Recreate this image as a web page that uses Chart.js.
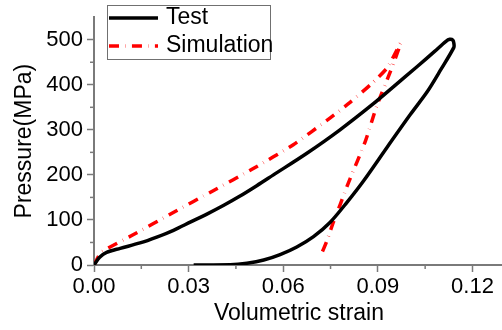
<!DOCTYPE html>
<html><head><meta charset="utf-8">
<script src="https://cdn.jsdelivr.net/npm/chart.js@4.4.1/dist/chart.umd.min.js"></script>
<style>html,body{margin:0;padding:0;overflow:hidden;background:#fff}#wrap{width:504px;height:330px;position:relative}</style>
</head><body><div id="wrap"><canvas id="c"></canvas></div>
<script>
// ---- data ----
const seriesLabels = ['Test', 'Simulation'];
const testStrain = [0, 0.0018, 0.004, 0.0083, 0.0146, 0.0199, 0.0252, 0.0305, 0.0358, 0.041, 0.0463, 0.0516, 0.0569, 0.0675, 0.078, 0.0886, 0.095, 0.1024, 0.108, 0.1115, 0.1128, 0.1138, 0.1141, 0.1141, 0.11, 0.1057, 0.1004, 0.093, 0.0855, 0.0802, 0.0749, 0.0696, 0.0643, 0.059, 0.0538, 0.0485, 0.0432, 0.0316];
const testPressure = [0, 17, 28, 37, 49, 62, 77, 95, 113, 132, 153, 176, 200, 248, 300, 358, 396, 440, 474, 496, 501, 499, 492, 483, 434, 385, 335, 262, 187, 139, 95, 63, 40, 23, 11, 4, 0.5, 0];
const simStrain = [0, 0.0023, 0.0124, 0.025, 0.0378, 0.0505, 0.0632, 0.0748, 0.0812, 0.0878, 0.093, 0.0972, 0.0939, 0.0897, 0.086, 0.0807, 0.078, 0.0759, 0.0738, 0.0719];
const simPressure = [0, 28, 67, 116, 165, 214, 267, 326, 361, 401, 438, 492, 428, 354, 274, 183, 133, 95, 53, 21];
const xTicks = [0, 0.03, 0.06, 0.09, 0.12];
const xMinorTicks = [0.015, 0.045, 0.075, 0.105];
const yTicks = [0, 100, 200, 300, 400, 500];
const yMinorTicks = [50, 150, 250, 350, 450];
const xTitle = 'Volumetric strain';
const yTitle = 'Pressure(MPa)';

const AXIS = '#7a7a7a';
const FONT = '"Liberation Sans", Arial, sans-serif';
const toPts = (xs, ys) => xs.map((v, i) => ({x: v, y: ys[i]}));

const minorTicks = {
  id: 'minorTicks',
  afterDraw(chart) {
    const {ctx, scales: {x, y}, chartArea: a} = chart;
    ctx.save();
    ctx.strokeStyle = AXIS; ctx.lineWidth = 1.5;
    xMinorTicks.forEach(v => { const p = x.getPixelForValue(v); ctx.beginPath(); ctx.moveTo(p, a.bottom); ctx.lineTo(p, a.bottom + 4); ctx.stroke(); });
    yMinorTicks.forEach(v => { const p = y.getPixelForValue(v); ctx.beginPath(); ctx.moveTo(a.left, p); ctx.lineTo(a.left - 4, p); ctx.stroke(); });
    ctx.restore();
  }
};

const boxLegend = {
  id: 'boxLegend',
  afterDraw(chart) {
    const ctx = chart.ctx;
    ctx.save();
    ctx.strokeStyle = '#707070'; ctx.lineWidth = 1;
    ctx.strokeRect(107.5, 5.5, 163, 54);
    const rows = [18, 46];
    chart.data.datasets.forEach((ds, i) => {
      const yy = rows[i];
      ctx.beginPath();
      ctx.setLineDash(ds.borderDash || []);
      ctx.strokeStyle = ds.borderColor; ctx.lineWidth = ds.borderWidth;
      ctx.moveTo(109, yy); ctx.lineTo(158, yy); ctx.stroke();
      ctx.setLineDash([]);
      ctx.fillStyle = '#000'; ctx.font = '23px ' + FONT; ctx.textBaseline = 'middle';
      ctx.fillText(ds.label, 166, yy);
    });
    ctx.restore();
  }
};

new Chart(document.getElementById('c'), {
  type: 'scatter',
  data: {
    datasets: [
      {label: seriesLabels[0], data: toPts(testStrain, testPressure), showLine: true, borderColor: '#000', borderWidth: 3.5, pointRadius: 0, tension: 0.3, fill: false},
      {label: seriesLabels[1], data: toPts(simStrain, simPressure), showLine: true, borderColor: '#ff0000', borderWidth: 3.5, borderDash: [10, 6.3, 0.35, 6.3], pointRadius: 0, tension: 0.2, fill: false}
    ]
  },
  options: {
    responsive: true, maintainAspectRatio: false, animation: false,
    layout: {padding: {top: 4, right: 0, left: 0, bottom: 0}},
    plugins: {legend: {display: false}, tooltip: {enabled: false}},
    scales: {
      x: {
        type: 'linear', min: 0, max: 0.13,
        afterBuildTicks: s => { s.ticks = xTicks.map(v => ({value: v})); },
        ticks: {callback: v => Number(v).toFixed(2), font: {family: FONT, size: 22}, color: '#000', padding: 2, maxRotation: 0, autoSkip: false},
        grid: {display: true, drawOnChartArea: false, drawTicks: true, tickLength: 7, tickColor: AXIS, tickWidth: 1.5},
        border: {display: true, color: AXIS, width: 2},
        title: {display: true, text: xTitle, font: {family: FONT, size: 23}, color: '#000', padding: {top: 0, bottom: 3}},
        afterFit: s => { s.height = 65; }
      },
      y: {
        type: 'linear', min: 0, max: 550,
        afterBuildTicks: s => { s.ticks = yTicks.map(v => ({value: v})); },
        ticks: {callback: v => String(v), font: {family: FONT, size: 22}, color: '#000', padding: 4, autoSkip: false},
        grid: {display: true, drawOnChartArea: false, drawTicks: true, tickLength: 7, tickColor: AXIS, tickWidth: 1.5},
        border: {display: true, color: AXIS, width: 2},
        title: {display: true, text: yTitle, font: {family: FONT, size: 23}, color: '#000', padding: {top: 11, bottom: 0}},
        afterFit: s => { s.width = 94; }
      }
    }
  },
  plugins: [minorTicks, boxLegend]
});
</script>
</body></html>
